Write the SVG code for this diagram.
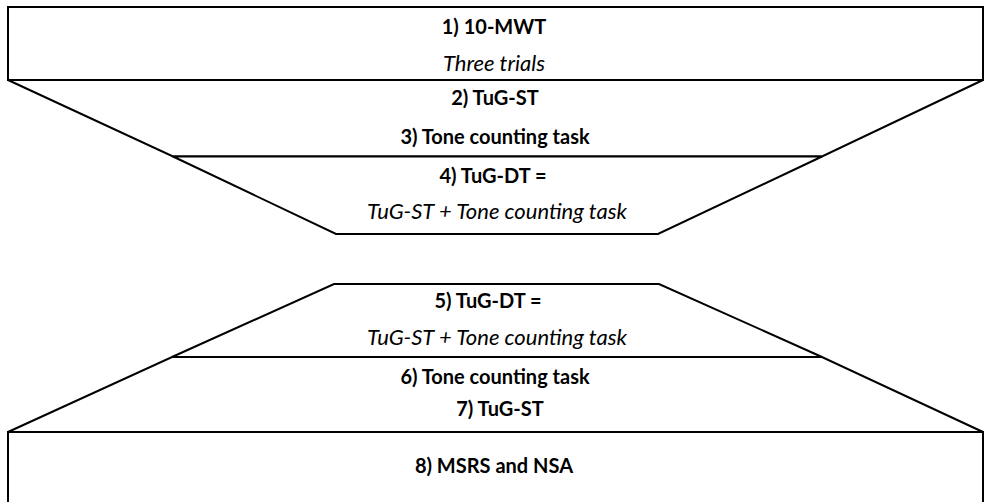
<svg xmlns="http://www.w3.org/2000/svg" width="984" height="502" viewBox="0 0 984 502">
  <style>
    .shape { fill: #ffffff; stroke: #000000; stroke-width: 2; stroke-linejoin: miter; }
    .t { font-family: Lato, "Open Sans", "Liberation Sans", sans-serif; fill: #000000; text-anchor: middle; }
    .b { font-weight: bold; font-size: 20px; }
    .i { font-style: italic; font-size: 22px; }
  </style>
  <rect width="984" height="502" fill="#ffffff"/>

  <!-- upper funnel -->
  <g id="n1-10mwt">
    <rect class="shape" x="8" y="7" width="975" height="73"/>
    <text class="t b" x="494" y="34">1) 10-MWT</text>
    <text class="t i" x="494" y="71">Three trials</text>
  </g>
  <g id="n2-tug-st-tone">
    <polygon class="shape" points="8,80 983,80 822,156.5 173,156.5"/>
    <text class="t b" x="495" y="105">2) TuG-ST</text>
    <text class="t b" x="495" y="144">3) Tone counting task</text>
  </g>
  <g id="n3-tug-dt">
    <polygon class="shape" points="173,156.5 822,156.5 658,234 336,234"/>
    <text class="t b" x="493" y="183">4) TuG-DT =</text>
    <text class="t i" x="497" y="219">TuG-ST + Tone counting task</text>
  </g>

  <!-- lower funnel -->
  <g id="n4-tug-dt">
    <polygon class="shape" points="334,284 659,284 822,357 172,357"/>
    <text class="t b" x="488" y="308">5) TuG-DT =</text>
    <text class="t i" x="497" y="345">TuG-ST + Tone counting task</text>
  </g>
  <g id="n5-tone-tug-st">
    <polygon class="shape" points="172,357 822,357 983,432 8,432"/>
    <text class="t b" x="495" y="384">6) Tone counting task</text>
    <text class="t b" x="500" y="416">7) TuG-ST</text>
  </g>
  <g id="n6-msrs-nsa">
    <rect class="shape" x="8" y="432" width="975" height="80"/>
    <text class="t b" x="494" y="473">8) MSRS and NSA</text>
  </g>
</svg>
